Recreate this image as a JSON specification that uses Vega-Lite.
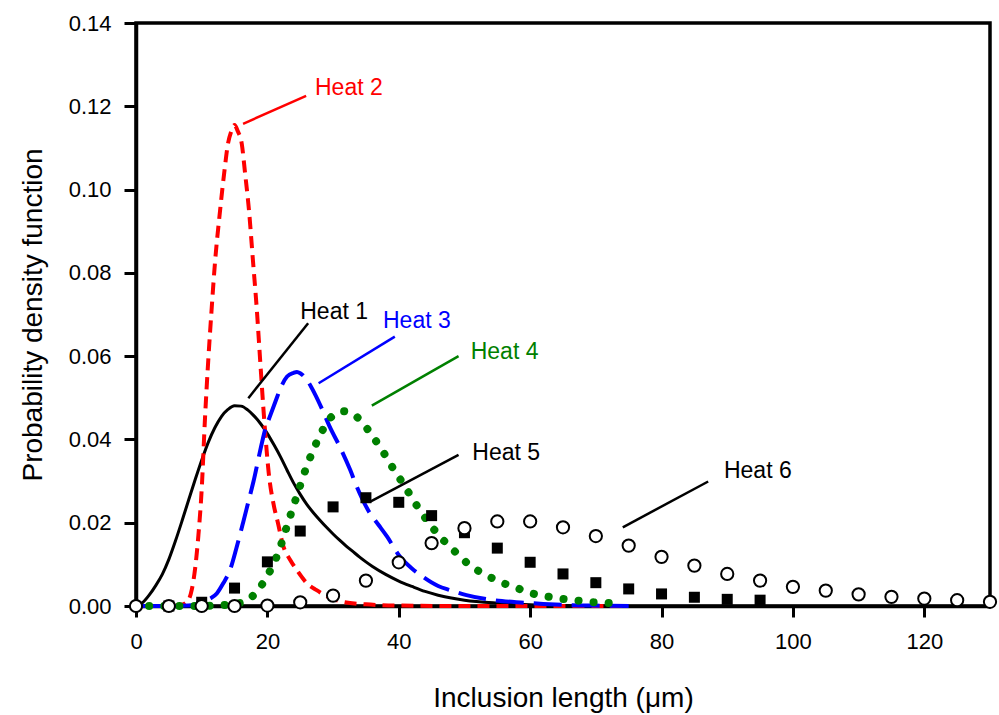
{
  "$schema": "https://vega.github.io/schema/vega-lite/v6.json",
  "width": 854,
  "height": 583,
  "autosize": {"type": "none"},
  "padding": {"left": 136, "top": 23, "right": 9, "bottom": 109},
  "background": "white",
  "config": {
    "view": {"stroke": "black", "strokeWidth": 3.5},
    "axis": {
      "grid": false,
      "domainColor": "black",
      "domainWidth": 3.5,
      "tickColor": "black",
      "tickWidth": 3,
      "labelFont": "Liberation Sans",
      "labelFontSize": 22,
      "labelColor": "black",
      "titleFont": "Liberation Sans",
      "titleFontSize": 28,
      "titleFontWeight": "normal",
      "titleColor": "black"
    }
  },
  "datasets": {
    "curves": [
      {"series": "Heat 1", "x": 0, "y": 0},
      {"series": "Heat 1", "x": 1, "y": 0.0008},
      {"series": "Heat 1", "x": 2, "y": 0.0026},
      {"series": "Heat 1", "x": 3, "y": 0.0049},
      {"series": "Heat 1", "x": 4, "y": 0.0076},
      {"series": "Heat 1", "x": 5, "y": 0.0112},
      {"series": "Heat 1", "x": 6, "y": 0.0156},
      {"series": "Heat 1", "x": 7, "y": 0.0204},
      {"series": "Heat 1", "x": 8, "y": 0.0254},
      {"series": "Heat 1", "x": 9, "y": 0.0303},
      {"series": "Heat 1", "x": 10, "y": 0.0350},
      {"series": "Heat 1", "x": 11, "y": 0.0393},
      {"series": "Heat 1", "x": 12, "y": 0.0428},
      {"series": "Heat 1", "x": 13, "y": 0.0455},
      {"series": "Heat 1", "x": 14, "y": 0.0472},
      {"series": "Heat 1", "x": 15, "y": 0.0481},
      {"series": "Heat 1", "x": 16, "y": 0.048},
      {"series": "Heat 1", "x": 17, "y": 0.0471},
      {"series": "Heat 1", "x": 18, "y": 0.0456},
      {"series": "Heat 1", "x": 19, "y": 0.0437},
      {"series": "Heat 1", "x": 20, "y": 0.0414},
      {"series": "Heat 1", "x": 21, "y": 0.0387},
      {"series": "Heat 1", "x": 22, "y": 0.0358},
      {"series": "Heat 1", "x": 23, "y": 0.0326},
      {"series": "Heat 1", "x": 24, "y": 0.0295},
      {"series": "Heat 1", "x": 25, "y": 0.0268},
      {"series": "Heat 1", "x": 26, "y": 0.0244},
      {"series": "Heat 1", "x": 27, "y": 0.0224},
      {"series": "Heat 1", "x": 28, "y": 0.0206},
      {"series": "Heat 1", "x": 29, "y": 0.0189},
      {"series": "Heat 1", "x": 30, "y": 0.0173},
      {"series": "Heat 1", "x": 31, "y": 0.0158},
      {"series": "Heat 1", "x": 32, "y": 0.0144},
      {"series": "Heat 1", "x": 33, "y": 0.0131},
      {"series": "Heat 1", "x": 34, "y": 0.0118},
      {"series": "Heat 1", "x": 35, "y": 0.0106},
      {"series": "Heat 1", "x": 36, "y": 0.0095},
      {"series": "Heat 1", "x": 38, "y": 0.0076},
      {"series": "Heat 1", "x": 40, "y": 0.006},
      {"series": "Heat 1", "x": 42, "y": 0.0047},
      {"series": "Heat 1", "x": 44, "y": 0.0035},
      {"series": "Heat 1", "x": 46, "y": 0.0026},
      {"series": "Heat 1", "x": 48, "y": 0.0019},
      {"series": "Heat 1", "x": 50, "y": 0.0014},
      {"series": "Heat 1", "x": 55, "y": 0.0007},
      {"series": "Heat 1", "x": 60, "y": 0.0003},
      {"series": "Heat 1", "x": 65, "y": 0.0001},
      {"series": "Heat 1", "x": 70, "y": 0},
      {"series": "Heat 1", "x": 75, "y": 0},

      {"series": "Heat 2", "x": 0, "y": 0},
      {"series": "Heat 2", "x": 5, "y": 0},
      {"series": "Heat 2", "x": 7, "y": 0.0003},
      {"series": "Heat 2", "x": 8, "y": 0.0015},
      {"series": "Heat 2", "x": 8.5, "y": 0.004},
      {"series": "Heat 2", "x": 9, "y": 0.009},
      {"series": "Heat 2", "x": 9.5, "y": 0.017},
      {"series": "Heat 2", "x": 10, "y": 0.028},
      {"series": "Heat 2", "x": 10.5, "y": 0.045},
      {"series": "Heat 2", "x": 11, "y": 0.059},
      {"series": "Heat 2", "x": 11.5, "y": 0.071},
      {"series": "Heat 2", "x": 12, "y": 0.082},
      {"series": "Heat 2", "x": 12.8, "y": 0.095},
      {"series": "Heat 2", "x": 13.5, "y": 0.105},
      {"series": "Heat 2", "x": 14, "y": 0.111},
      {"series": "Heat 2", "x": 14.5, "y": 0.114},
      {"series": "Heat 2", "x": 15, "y": 0.1155},
      {"series": "Heat 2", "x": 15.5, "y": 0.114},
      {"series": "Heat 2", "x": 16.1, "y": 0.111},
      {"series": "Heat 2", "x": 16.6, "y": 0.104},
      {"series": "Heat 2", "x": 17.2, "y": 0.095},
      {"series": "Heat 2", "x": 17.8, "y": 0.083},
      {"series": "Heat 2", "x": 18.4, "y": 0.071},
      {"series": "Heat 2", "x": 18.9, "y": 0.059},
      {"series": "Heat 2", "x": 19.6, "y": 0.043},
      {"series": "Heat 2", "x": 20.2, "y": 0.032},
      {"series": "Heat 2", "x": 21, "y": 0.024},
      {"series": "Heat 2", "x": 21.6, "y": 0.02},
      {"series": "Heat 2", "x": 22.4, "y": 0.0145},
      {"series": "Heat 2", "x": 23.5, "y": 0.011},
      {"series": "Heat 2", "x": 24.5, "y": 0.0086},
      {"series": "Heat 2", "x": 26, "y": 0.0055},
      {"series": "Heat 2", "x": 27.5, "y": 0.0038},
      {"series": "Heat 2", "x": 29.5, "y": 0.002},
      {"series": "Heat 2", "x": 31.5, "y": 0.001},
      {"series": "Heat 2", "x": 35, "y": 0.0004},
      {"series": "Heat 2", "x": 40, "y": 0.0001},
      {"series": "Heat 2", "x": 50, "y": 0},
      {"series": "Heat 2", "x": 75, "y": 0},

      {"series": "Heat 3", "x": 0, "y": 0},
      {"series": "Heat 3", "x": 5, "y": 0},
      {"series": "Heat 3", "x": 8, "y": 0.0001},
      {"series": "Heat 3", "x": 9, "y": 0.0003},
      {"series": "Heat 3", "x": 10.2, "y": 0.0007},
      {"series": "Heat 3", "x": 11, "y": 0.0015},
      {"series": "Heat 3", "x": 12.3, "y": 0.003},
      {"series": "Heat 3", "x": 13.3, "y": 0.0055},
      {"series": "Heat 3", "x": 14.3, "y": 0.0086},
      {"series": "Heat 3", "x": 15.3, "y": 0.014},
      {"series": "Heat 3", "x": 16.3, "y": 0.02},
      {"series": "Heat 3", "x": 17.1, "y": 0.025},
      {"series": "Heat 3", "x": 17.9, "y": 0.03},
      {"series": "Heat 3", "x": 19, "y": 0.038},
      {"series": "Heat 3", "x": 19.6, "y": 0.042},
      {"series": "Heat 3", "x": 20.5, "y": 0.046},
      {"series": "Heat 3", "x": 21.2, "y": 0.049},
      {"series": "Heat 3", "x": 22.2, "y": 0.053},
      {"series": "Heat 3", "x": 23, "y": 0.0551},
      {"series": "Heat 3", "x": 24, "y": 0.056},
      {"series": "Heat 3", "x": 24.5, "y": 0.0562},
      {"series": "Heat 3", "x": 25, "y": 0.0559},
      {"series": "Heat 3", "x": 26, "y": 0.0543},
      {"series": "Heat 3", "x": 27.2, "y": 0.051},
      {"series": "Heat 3", "x": 28.4, "y": 0.047},
      {"series": "Heat 3", "x": 29.5, "y": 0.043},
      {"series": "Heat 3", "x": 31.1, "y": 0.038},
      {"series": "Heat 3", "x": 32.6, "y": 0.0327},
      {"series": "Heat 3", "x": 33.6, "y": 0.0287},
      {"series": "Heat 3", "x": 35.6, "y": 0.0223},
      {"series": "Heat 3", "x": 36.9, "y": 0.0195},
      {"series": "Heat 3", "x": 38.2, "y": 0.0167},
      {"series": "Heat 3", "x": 40.2, "y": 0.0118},
      {"series": "Heat 3", "x": 42, "y": 0.009},
      {"series": "Heat 3", "x": 43.7, "y": 0.007},
      {"series": "Heat 3", "x": 46, "y": 0.0048},
      {"series": "Heat 3", "x": 47.8, "y": 0.0038},
      {"series": "Heat 3", "x": 50.3, "y": 0.0026},
      {"series": "Heat 3", "x": 54.4, "y": 0.0014},
      {"series": "Heat 3", "x": 59, "y": 0.0008},
      {"series": "Heat 3", "x": 62, "y": 0.0005},
      {"series": "Heat 3", "x": 66.5, "y": 0.0002},
      {"series": "Heat 3", "x": 70, "y": 0.0001},
      {"series": "Heat 3", "x": 75, "y": 0},

      {"series": "Heat 4", "x": 2, "y": 0},
      {"series": "Heat 4", "x": 10, "y": 0},
      {"series": "Heat 4", "x": 13, "y": 0.0002},
      {"series": "Heat 4", "x": 15.8, "y": 0.0007},
      {"series": "Heat 4", "x": 17.9, "y": 0.0026},
      {"series": "Heat 4", "x": 19.6, "y": 0.0062},
      {"series": "Heat 4", "x": 21.7, "y": 0.013},
      {"series": "Heat 4", "x": 23.2, "y": 0.0203},
      {"series": "Heat 4", "x": 24.7, "y": 0.0275},
      {"series": "Heat 4", "x": 25.4, "y": 0.0309},
      {"series": "Heat 4", "x": 26.2, "y": 0.0344},
      {"series": "Heat 4", "x": 27.1, "y": 0.0379},
      {"series": "Heat 4", "x": 28.2, "y": 0.0416},
      {"series": "Heat 4", "x": 29.5, "y": 0.045},
      {"series": "Heat 4", "x": 30.5, "y": 0.0463},
      {"series": "Heat 4", "x": 31.5, "y": 0.0468},
      {"series": "Heat 4", "x": 32.5, "y": 0.0465},
      {"series": "Heat 4", "x": 34.1, "y": 0.0447},
      {"series": "Heat 4", "x": 35.9, "y": 0.041},
      {"series": "Heat 4", "x": 37.4, "y": 0.0376},
      {"series": "Heat 4", "x": 38.8, "y": 0.0339},
      {"series": "Heat 4", "x": 40.2, "y": 0.0305},
      {"series": "Heat 4", "x": 41.6, "y": 0.027},
      {"series": "Heat 4", "x": 43, "y": 0.0235},
      {"series": "Heat 4", "x": 44.8, "y": 0.0195},
      {"series": "Heat 4", "x": 46.5, "y": 0.0163},
      {"series": "Heat 4", "x": 48.6, "y": 0.013},
      {"series": "Heat 4", "x": 50.8, "y": 0.0098},
      {"series": "Heat 4", "x": 53.1, "y": 0.0076},
      {"series": "Heat 4", "x": 55.4, "y": 0.0058},
      {"series": "Heat 4", "x": 57.7, "y": 0.0045},
      {"series": "Heat 4", "x": 59.9, "y": 0.0032},
      {"series": "Heat 4", "x": 62.2, "y": 0.0024},
      {"series": "Heat 4", "x": 64.4, "y": 0.0018},
      {"series": "Heat 4", "x": 66.7, "y": 0.0014},
      {"series": "Heat 4", "x": 69, "y": 0.001},
      {"series": "Heat 4", "x": 71.1, "y": 0.0008},
      {"series": "Heat 4", "x": 73.4, "y": 0.0006}
    ],
    "points": [
      {"series": "Heat 5", "x": 5, "y": 0},
      {"series": "Heat 5", "x": 10, "y": 0.0009},
      {"series": "Heat 5", "x": 15, "y": 0.0043},
      {"series": "Heat 5", "x": 20, "y": 0.0106},
      {"series": "Heat 5", "x": 25, "y": 0.018},
      {"series": "Heat 5", "x": 30, "y": 0.0238},
      {"series": "Heat 5", "x": 35, "y": 0.026},
      {"series": "Heat 5", "x": 40, "y": 0.0249},
      {"series": "Heat 5", "x": 45, "y": 0.0217},
      {"series": "Heat 5", "x": 50, "y": 0.0176},
      {"series": "Heat 5", "x": 55, "y": 0.0139},
      {"series": "Heat 5", "x": 60, "y": 0.0105},
      {"series": "Heat 5", "x": 65, "y": 0.0077},
      {"series": "Heat 5", "x": 70, "y": 0.0056},
      {"series": "Heat 5", "x": 75, "y": 0.0041},
      {"series": "Heat 5", "x": 80, "y": 0.0029},
      {"series": "Heat 5", "x": 85, "y": 0.0021},
      {"series": "Heat 5", "x": 90, "y": 0.0016},
      {"series": "Heat 5", "x": 95, "y": 0.0014},
      {"series": "Heat 6", "x": 0, "y": 0},
      {"series": "Heat 6", "x": 5, "y": 0},
      {"series": "Heat 6", "x": 10, "y": 0},
      {"series": "Heat 6", "x": 15, "y": 0},
      {"series": "Heat 6", "x": 20, "y": 0.0001},
      {"series": "Heat 6", "x": 25, "y": 0.0009},
      {"series": "Heat 6", "x": 30, "y": 0.0025},
      {"series": "Heat 6", "x": 35, "y": 0.0061},
      {"series": "Heat 6", "x": 40, "y": 0.0105},
      {"series": "Heat 6", "x": 45, "y": 0.0151},
      {"series": "Heat 6", "x": 50, "y": 0.0187},
      {"series": "Heat 6", "x": 55, "y": 0.0203},
      {"series": "Heat 6", "x": 60, "y": 0.0203},
      {"series": "Heat 6", "x": 65, "y": 0.0189},
      {"series": "Heat 6", "x": 70, "y": 0.0168},
      {"series": "Heat 6", "x": 75, "y": 0.0145},
      {"series": "Heat 6", "x": 80, "y": 0.0118},
      {"series": "Heat 6", "x": 85, "y": 0.0097},
      {"series": "Heat 6", "x": 90, "y": 0.0077},
      {"series": "Heat 6", "x": 95, "y": 0.0061},
      {"series": "Heat 6", "x": 100, "y": 0.0046},
      {"series": "Heat 6", "x": 105, "y": 0.0037},
      {"series": "Heat 6", "x": 110, "y": 0.0028},
      {"series": "Heat 6", "x": 115, "y": 0.0022},
      {"series": "Heat 6", "x": 120, "y": 0.0018},
      {"series": "Heat 6", "x": 125, "y": 0.0014},
      {"series": "Heat 6", "x": 130, "y": 0.001}
    ],
    "labels": [
      {"series": "Heat 1", "tx": 25.0, "ty": 0.0707, "x1": 17.1, "y1": 0.0499, "x2": 26.2, "y2": 0.0679},
      {"series": "Heat 2", "tx": 27.25, "ty": 0.1244, "x1": 16.3, "y1": 0.1158, "x2": 25.9, "y2": 0.1225},
      {"series": "Heat 3", "tx": 37.6, "ty": 0.0684, "x1": 27.8, "y1": 0.0535, "x2": 39.4, "y2": 0.0647},
      {"series": "Heat 4", "tx": 50.95, "ty": 0.061, "x1": 35.9, "y1": 0.0481, "x2": 49.1, "y2": 0.06},
      {"series": "Heat 5", "tx": 51.2, "ty": 0.0367, "x1": 35.6, "y1": 0.025, "x2": 49.1, "y2": 0.0363},
      {"series": "Heat 6", "tx": 89.5, "ty": 0.0324, "x1": 74.1, "y1": 0.0189, "x2": 87.1, "y2": 0.0299}
    ]
  },
  "encoding": {
    "x": {
      "field": "x",
      "type": "quantitative",
      "scale": {"domain": [0, 130], "nice": false, "zero": false},
      "axis": {
        "title": "Inclusion length (μm)",
        "values": [0, 20, 40, 60, 80, 100, 120],
        "tickSize": 11,
        "labelPadding": 14,
        "titlePadding": 32,
        "labelFlush": false
      }
    },
    "y": {
      "field": "y",
      "type": "quantitative",
      "scale": {"domain": [0, 0.14], "nice": false},
      "axis": {
        "title": "Probability density function",
        "values": [0, 0.02, 0.04, 0.06, 0.08, 0.1, 0.12, 0.14],
        "format": ".2f",
        "tickSize": 12,
        "labelPadding": 13,
        "titlePadding": 21,
        "labelFlush": false
      }
    }
  },
  "layer": [
    {
      "data": {"name": "curves"},
      "transform": [{"filter": "datum.series === 'Heat 1'"}],
      "mark": {"type": "line", "color": "black", "strokeWidth": 3, "interpolate": "monotone"}
    },
    {
      "data": {"name": "curves"},
      "transform": [{"filter": "datum.series === 'Heat 2'"}],
      "mark": {"type": "line", "color": "#FF0000", "strokeWidth": 4, "strokeDash": [12, 7], "interpolate": "monotone"}
    },
    {
      "data": {"name": "curves"},
      "transform": [{"filter": "datum.series === 'Heat 3'"}],
      "mark": {"type": "line", "color": "#0000FF", "strokeWidth": 4, "strokeDash": [28, 10], "interpolate": "monotone"}
    },
    {
      "data": {"name": "curves"},
      "transform": [{"filter": "datum.series === 'Heat 4'"}],
      "mark": {"type": "line", "color": "#008000", "strokeWidth": 8, "strokeDash": [0.1, 15], "strokeCap": "round", "interpolate": "monotone"}
    },
    {
      "data": {"name": "points"},
      "transform": [{"filter": "datum.series === 'Heat 5'"}],
      "mark": {"type": "point", "shape": "square", "filled": true, "color": "black", "size": 121, "opacity": 1}
    },
    {
      "data": {"name": "points"},
      "transform": [{"filter": "datum.series === 'Heat 6'"}],
      "mark": {"type": "point", "shape": "circle", "filled": false, "fill": "white", "fillOpacity": 1, "stroke": "black", "strokeWidth": 2, "size": 150, "opacity": 1}
    },
    {
      "data": {"name": "labels"},
      "mark": {"type": "rule", "strokeWidth": 2.5},
      "encoding": {
        "x": {"field": "x1", "type": "quantitative"},
        "y": {"field": "y1", "type": "quantitative"},
        "x2": {"field": "x2"},
        "y2": {"field": "y2"},
        "color": {
          "field": "series",
          "type": "nominal",
          "scale": {"domain": ["Heat 1", "Heat 2", "Heat 3", "Heat 4", "Heat 5", "Heat 6"], "range": ["black", "#FF0000", "#0000FF", "#008000", "black", "black"]},
          "legend": null
        }
      }
    },
    {
      "data": {"name": "labels"},
      "mark": {"type": "text", "align": "left", "baseline": "middle", "font": "Liberation Sans", "fontSize": 23},
      "encoding": {
        "x": {"field": "tx", "type": "quantitative"},
        "y": {"field": "ty", "type": "quantitative"},
        "text": {"field": "series"},
        "color": {
          "field": "series",
          "type": "nominal",
          "scale": {"domain": ["Heat 1", "Heat 2", "Heat 3", "Heat 4", "Heat 5", "Heat 6"], "range": ["black", "#FF0000", "#0000FF", "#008000", "black", "black"]},
          "legend": null
        }
      }
    }
  ]
}
